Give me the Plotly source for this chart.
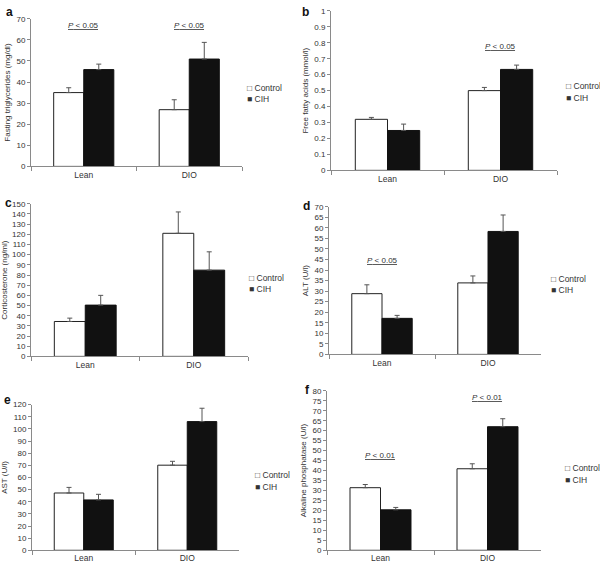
import plotly.graph_objects as go

categories = ["Lean", "DIO"]

tg_control = [35.0, 26.9]
tg_control_err = [2.3, 4.7]
tg_cih = [45.9, 50.9]
tg_cih_err = [2.6, 7.9]

ffa_control = [0.32, 0.50]
ffa_control_err = [0.012, 0.02]
ffa_cih = [0.25, 0.633]
ffa_cih_err = [0.04, 0.027]

cort_control = [34.3, 121.0]
cort_control_err = [3.3, 21.0]
cort_cih = [50.4, 84.8]
cort_cih_err = [9.6, 18.0]

alt_control = [28.8, 33.9]
alt_control_err = [4.2, 3.3]
alt_cih = [17.1, 58.3]
alt_cih_err = [1.4, 7.8]

ast_control = [47.2, 70.1]
ast_control_err = [4.6, 3.2]
ast_cih = [41.5, 106.0]
ast_cih_err = [4.6, 11.0]

alp_control = [31.4, 40.9]
alp_control_err = [1.6, 2.5]
alp_cih = [20.3, 62.0]
alp_cih_err = [1.2, 4.0]

# panel: letter, y title, data, y max, dtick, significance annotations (category, y)
panels = [
    dict(letter="a", title="Fasting triglycerides (mg/dl)", c=tg_control, ce=tg_control_err,
         h=tg_cih, he=tg_cih_err, ymax=70, dtick=10,
         sig=[("Lean", 67.0, "0.05"), ("DIO", 67.0, "0.05")]),
    dict(letter="b", title="Free fatty acids (mmol/l)", c=ffa_control, ce=ffa_control_err,
         h=ffa_cih, he=ffa_cih_err, ymax=1, dtick=0.1,
         sig=[("DIO", 0.778, "0.05")]),
    dict(letter="c", title="Corticosterone (ng/ml)", c=cort_control, ce=cort_control_err,
         h=cort_cih, he=cort_cih_err, ymax=150, dtick=10, sig=[]),
    dict(letter="d", title="ALT (U/l)", c=alt_control, ce=alt_control_err,
         h=alt_cih, he=alt_cih_err, ymax=70, dtick=5,
         sig=[("Lean", 44.7, "0.05"), ("DIO", 71.1, "0.01")]),
    dict(letter="e", title="AST (U/l)", c=ast_control, ce=ast_control_err,
         h=ast_cih, he=ast_cih_err, ymax=120, dtick=10,
         sig=[("DIO", 125.4, "0.01")]),
    dict(letter="f", title="Alkaline phosphatase (U/l)", c=alp_control, ce=alp_control_err,
         h=alp_cih, he=alp_cih_err, ymax=80, dtick=5,
         sig=[("Lean", 47.8, "0.01"), ("DIO", 76.9, "0.01")]),
]

# pixel layout boxes: x of y-axis, x end of x-axis, y pixel of top, y pixel of zero
boxes = [
    (31, 242, 15, 165),
    (331, 557, 7, 169),
    (31, 248, 203, 358),
    (329, 541, 206, 356),
    (32, 239, 407, 555),
    (327, 541, 393, 555),
]
letter_pos = [(9, 8), (305, 8), (8, 202), (306, 205), (7, 402), (307, 392)]
legend_pos = [(245, 85, 97), (564, 83, 95), (247, 278, 290),
              (549, 279, 291), (253, 479, 491), (563, 471, 484)]

W, H = 600, 573
AX = "#8a8a8a"
TXT = "#333333"
FONT = "Liberation Sans, Arial, sans-serif"

fig = go.Figure()
layout = dict(
    width=W, height=H, margin=dict(l=0, r=0, t=0, b=0),
    paper_bgcolor="white", plot_bgcolor="white",
    showlegend=False, barmode="group", bargap=0.43, bargroupgap=0,
    font=dict(family=FONT, size=8, color=TXT),
)
annotations = []

for i, (p, box) in enumerate(zip(panels, boxes)):
    n = i + 1
    xa = "x" if n == 1 else f"x{n}"
    ya = "y" if n == 1 else f"y{n}"
    x0, x1, yt, yb = box
    fig.add_trace(go.Bar(
        x=categories, y=p["c"], name="Control", xaxis=xa, yaxis=ya,
        marker=dict(color="white", line=dict(color="#222222", width=1)),
        error_y=dict(type="data", symmetric=False, array=p["ce"], arrayminus=[0, 0],
                     color="#555555", thickness=1, width=2.5),
        offsetgroup="c",
    ))
    fig.add_trace(go.Bar(
        x=categories, y=p["h"], name="CIH", xaxis=xa, yaxis=ya,
        marker=dict(color="#111111", line=dict(color="#111111", width=1)),
        error_y=dict(type="data", symmetric=False, array=p["he"], arrayminus=[0, 0],
                     color="#555555", thickness=1, width=2.5),
        offsetgroup="h",
    ))
    xkey = "xaxis" if n == 1 else f"xaxis{n}"
    ykey = "yaxis" if n == 1 else f"yaxis{n}"
    layout[xkey] = dict(
        domain=[x0 / W, x1 / W], anchor=ya, type="category",
        showline=True, linecolor=AX, linewidth=1, ticks="outside", tickson="boundaries",
        ticklen=4, tickcolor=AX, showgrid=False, zeroline=False,
        tickfont=dict(size=8.5, color=TXT), fixedrange=True,
    )
    layout[ykey] = dict(
        domain=[1 - yb / H, 1 - yt / H], anchor=xa, range=[0, p["ymax"]],
        dtick=p["dtick"], tick0=0, showline=True, linecolor=AX, linewidth=1,
        ticks="outside", ticklen=3, tickcolor=AX, showgrid=False, zeroline=False,
        tickfont=dict(size=8, color=TXT),
        title=dict(text=p["title"], font=dict(size=8, color=TXT), standoff=4),
    )
    lx, ly = letter_pos[i]
    annotations.append(dict(text=f"<b>{p['letter']}</b>", x=lx / W, y=1 - ly / H,
                            xref="paper", yref="paper", showarrow=False,
                            font=dict(size=12, color="#111111"),
                            xanchor="center", yanchor="middle"))
    gx, gy1, gy2 = legend_pos[i]
    annotations.append(dict(text="□ Control", x=gx / W, y=1 - gy1 / H, xref="paper",
                            yref="paper", showarrow=False, xanchor="left",
                            yanchor="middle", font=dict(size=8.5, color=TXT)))
    annotations.append(dict(text="■ CIH", x=gx / W, y=1 - gy2 / H, xref="paper",
                            yref="paper", showarrow=False, xanchor="left",
                            yanchor="middle", font=dict(size=8.5, color=TXT)))
    for cat, yv, pv in p["sig"]:
        annotations.append(dict(text=f"<i>P</i> < {pv}", x=cat, y=yv, xref=xa, yref=ya,
                                showarrow=False, xanchor="center", yanchor="middle",
                                font=dict(size=8, color=TXT, lineposition="under")))

layout["annotations"] = annotations
fig.update_layout(**layout)
fig.write_html("out.html", config={"displayModeBar": False},
               post_script="document.body.style.margin='0';document.body.style.overflow='hidden';")
